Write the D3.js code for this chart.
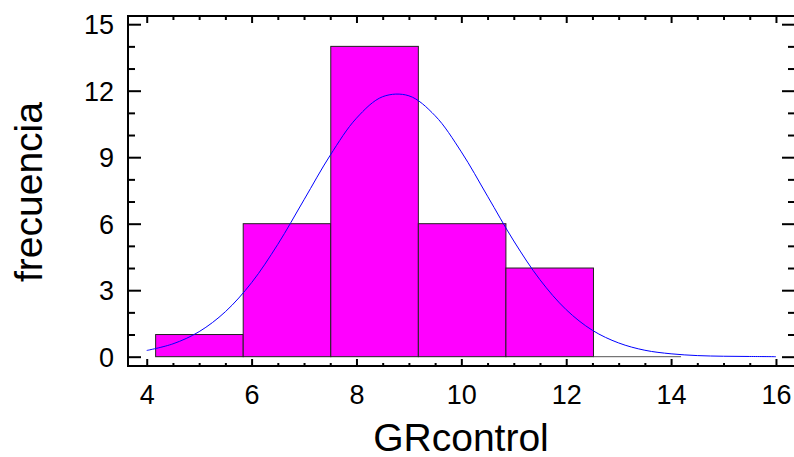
<!DOCTYPE html>
<html><head><meta charset="utf-8">
<script src="https://cdn.jsdelivr.net/npm/d3@7"></script>
<style>body{margin:0;background:#fff}svg{display:block}text{font-family:"Liberation Sans",Arial,sans-serif;fill:#000}</style>
</head><body><svg id="c" width="794" height="457"></svg>
<script>
const binEdges = [4.17, 5.84, 7.51, 9.18, 10.85, 12.52, 14.19];
const binCounts = [1, 6, 14, 6, 4, 0];
const curveX = [4,4.5,5,5.5,6,6.5,7,7.5,8,8.5,9,9.5,10,10.5,11,11.5,12,12.5,13,13.5,14,14.5,15,15.5,16];
const curveY = [0.28,0.58,1.13,2.03,3.34,5.07,7.08,9.09,10.76,11.73,11.77,10.87,9.24,7.24,5.22,3.47,2.12,1.19,0.62,0.29,0.13,0.05,0.02,0.01,0.0];
const xTicks = [4,6,8,10,12,14,16];
const yTicks = [0,3,6,9,12,15];

const svg = d3.select("#c");
const L=128, R=795, T=16, B=366;
const x = d3.scaleLinear().domain([3.643,16.363]).range([L,R]);
const y = d3.scaleLinear().domain([-0.42,15.37]).range([B,T]);

// bars
const bins = binCounts.map((c,i)=>({x0:binEdges[i],x1:binEdges[i+1],c}));
svg.append("g").selectAll("rect").data(bins.filter(d=>d.c>0)).join("rect")
  .attr("x",d=>x(d.x0)).attr("width",d=>x(d.x1)-x(d.x0))
  .attr("y",d=>y(d.c)).attr("height",d=>y(0)-y(d.c))
  .attr("fill","#ff00ff").attr("stroke","#222").attr("stroke-width",1);
svg.append("g").selectAll("line").data(bins.filter(d=>d.c===0)).join("line")
  .attr("x1",d=>x(d.x0)).attr("x2",d=>x(d.x1)).attr("y1",y(0)).attr("y2",y(0))
  .attr("stroke","#555").attr("stroke-width",1);

// curve
const pts = curveX.map((v,i)=>[v,curveY[i]]);
svg.append("path").datum(pts)
  .attr("d",d3.line().x(d=>x(d[0])).y(d=>y(d[1])).curve(d3.curveCatmullRom))
  .attr("fill","none").attr("stroke","#0000ff").attr("stroke-width",1);

// frame
svg.append("rect").attr("x",L).attr("y",T).attr("width",R-L).attr("height",B-T)
  .attr("fill","none").attr("stroke","#000").attr("stroke-width",2);

const xMinor = d3.range(4,16.01,0.5).filter(v=>v%2!==0);
const yMinor = d3.range(0,15.01,1).filter(v=>v%3!==0);

// bottom axis (inward ticks)
const bx = svg.append("g").attr("transform",`translate(0,${B})`)
  .call(d3.axisBottom(x).tickValues(xTicks).tickSize(-7).tickSizeOuter(0).tickPadding(0));
bx.select(".domain").remove();
bx.selectAll(".tick line").attr("stroke-width",2);
bx.selectAll(".tick text").attr("font-size",27).attr("y",38).attr("dy",0);
svg.append("g").attr("transform",`translate(0,${B})`)
  .call(d3.axisBottom(x).tickValues(xMinor).tickSize(-3).tickFormat("").tickSizeOuter(0))
  .call(g=>{g.select(".domain").remove();g.selectAll(".tick line").attr("stroke-width",2);});
// top axis
svg.append("g").attr("transform",`translate(0,${T})`)
  .call(d3.axisTop(x).tickValues(xTicks).tickSize(-7).tickFormat("").tickSizeOuter(0))
  .call(g=>{g.select(".domain").remove();g.selectAll(".tick line").attr("stroke-width",2);});
svg.append("g").attr("transform",`translate(0,${T})`)
  .call(d3.axisTop(x).tickValues(xMinor).tickSize(-4).tickFormat("").tickSizeOuter(0))
  .call(g=>{g.select(".domain").remove();g.selectAll(".tick line").attr("stroke-width",2);});
// left axis
const ly = svg.append("g").attr("transform",`translate(${L},0)`)
  .call(d3.axisLeft(y).tickValues(yTicks).tickSize(-13).tickSizeOuter(0).tickPadding(0));
ly.select(".domain").remove();
ly.selectAll(".tick line").attr("stroke-width",2);
ly.selectAll(".tick text").attr("font-size",27).attr("x",-14).attr("dy","0.36em");
svg.append("g").attr("transform",`translate(${L},0)`)
  .call(d3.axisLeft(y).tickValues(yMinor).tickSize(-7).tickFormat("").tickSizeOuter(0))
  .call(g=>{g.select(".domain").remove();g.selectAll(".tick line").attr("stroke-width",2);});
// right axis
svg.append("g").attr("transform",`translate(${R},0)`)
  .call(d3.axisRight(y).tickValues(yTicks).tickSize(-13).tickFormat("").tickSizeOuter(0))
  .call(g=>{g.select(".domain").remove();g.selectAll(".tick line").attr("stroke-width",2);});
svg.append("g").attr("transform",`translate(${R},0)`)
  .call(d3.axisRight(y).tickValues(yMinor).tickSize(-7).tickFormat("").tickSizeOuter(0))
  .call(g=>{g.select(".domain").remove();g.selectAll(".tick line").attr("stroke-width",2);});

// titles
svg.append("text").attr("x",461).attr("y",451).attr("text-anchor","middle")
  .attr("font-size",39).text("GRcontrol");
svg.append("text").attr("transform","translate(42,192) rotate(-90)").attr("text-anchor","middle")
  .attr("font-size",39).text("frecuencia");
</script></body></html>
